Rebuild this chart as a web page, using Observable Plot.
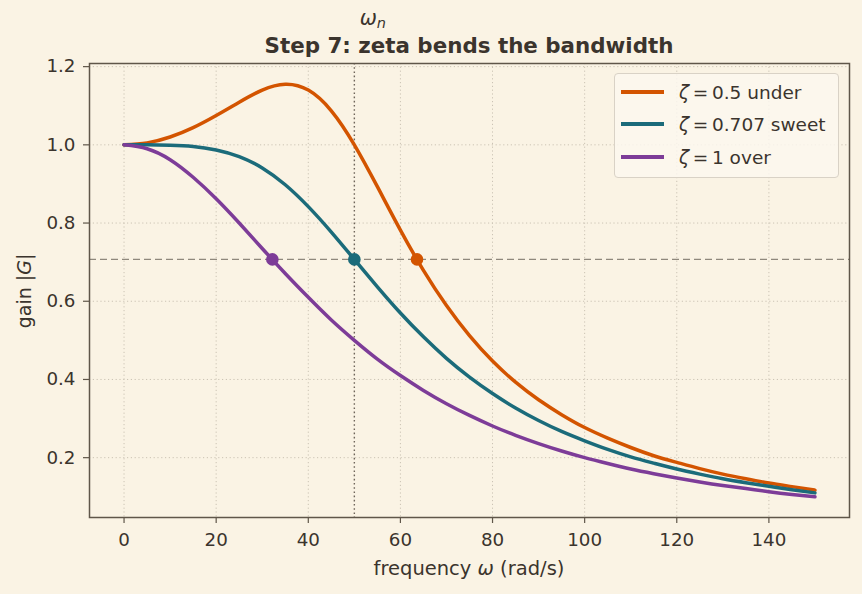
<!DOCTYPE html>
<html>
<head>
<meta charset="utf-8">
<script src="https://cdn.jsdelivr.net/npm/d3@7"></script>
<script src="https://cdn.jsdelivr.net/npm/@observablehq/plot@0.6"></script>
<style>
  html, body { margin: 0; padding: 0; background: #faf3e4; }
  #figure { position: relative; width: 862px; height: 594px; background: #faf3e4;
            font-family: "DejaVu Sans", sans-serif; color: #3b342d; }
  #title { position: absolute; left: 89px; width: 760px; top: 35px; text-align: center;
           font-weight: bold; font-size: 21.4px; line-height: 21px; }
  #legend { position: absolute; left: 614px; top: 73px; width: 225px; height: 105px;
            border: 1px solid #d9d2c6; border-radius: 4px; background: rgba(252,247,238,0.85);
            box-sizing: border-box; }
  .row { position: absolute; left: 0; height: 24px; display: flex; align-items: center;
         font-size: 18.5px; white-space: nowrap; }
  .swatch { width: 43px; height: 4px; margin-left: 6px; margin-right: 15px; }
  .row i { font-style: italic; }
</style>
</head>
<body>
<div id="figure">
  <div id="title">Step 7: zeta bends the bandwidth</div>
  <div id="legend"></div>
</div>
<script>
// Frequency grid (rad/s) and the gain of each damped response
const omega = [0, 5, 10, 15, 20, 25, 30, 35, 40, 45, 50, 55, 60, 65, 70, 75,
  80, 85, 90, 95, 100, 105, 110, 115, 120, 125, 130, 135, 140, 145, 150];
const gainUnder = [1.000, 1.005, 1.020, 1.044, 1.075, 1.109, 1.140, 1.155, 1.140, 1.087,
  1.000, 0.893, 0.782, 0.679, 0.589, 0.512, 0.447, 0.393, 0.348, 0.310, 0.277, 0.250,
  0.226, 0.205, 0.188, 0.172, 0.158, 0.146, 0.135, 0.126, 0.117];
const gainSweet = [1.000, 1.000, 0.999, 0.996, 0.987, 0.970, 0.941, 0.898, 0.842, 0.777,
  0.707, 0.637, 0.570, 0.509, 0.454, 0.406, 0.364, 0.327, 0.295, 0.267, 0.243, 0.221,
  0.202, 0.186, 0.171, 0.158, 0.146, 0.136, 0.127, 0.118, 0.110];
const gainOver = [1.000, 0.990, 0.962, 0.917, 0.862, 0.800, 0.735, 0.671, 0.610, 0.552,
  0.500, 0.452, 0.410, 0.372, 0.338, 0.308, 0.281, 0.257, 0.236, 0.217, 0.200, 0.185,
  0.171, 0.159, 0.148, 0.138, 0.129, 0.121, 0.113, 0.106, 0.100];

const seriesNames = ["ζ = 0.5 under", "ζ = 0.707 sweet", "ζ = 1 over"];
const zetaValues = ["0.5", "0.707", "1"];
const zetaWords = ["under", "sweet", "over"];
const seriesColors = ["#d35400", "#1b6b7a", "#7d3c98"];
const bandwidth = [63.6, 50.0, 32.2];   // -3 dB crossing of each curve
const cutoff = 0.707;
const naturalFreq = 50;
const xTicks = [0, 20, 40, 60, 80, 100, 120, 140];
const yTicks = [0.2, 0.4, 0.6, 0.8, 1.0, 1.2];

const gains = [gainUnder, gainSweet, gainOver];
const rows = gains.flatMap((g, i) => omega.map((w, j) => ({omega: w, gain: g[j], series: seriesNames[i]})));
const bwRows = bandwidth.map((b, i) => ({bw: b, gain: cutoff, series: seriesNames[i]}));

const frameColor = "#5f5649";
const gridColor = "#cbc3b4";

const chart = Plot.plot({
  width: 862,
  height: 594,
  marginLeft: 89,
  marginRight: 13,
  marginTop: 63,
  marginBottom: 77,
  style: {background: "transparent", fontFamily: "DejaVu Sans, sans-serif", color: "#3b342d", overflow: "visible"},
  x: {domain: [-7.5, 157.5]},
  y: {domain: [0.047, 1.208]},
  color: {domain: seriesNames, range: seriesColors},
  marks: [
    Plot.gridX(xTicks, {stroke: gridColor, strokeOpacity: 1, strokeWidth: 1, strokeDasharray: "1.2,2.6"}),
    Plot.gridY(yTicks, {stroke: gridColor, strokeOpacity: 1, strokeWidth: 1, strokeDasharray: "1.2,2.6"}),
    Plot.ruleY([cutoff], {stroke: "#8f887c", strokeWidth: 1.4, strokeDasharray: "7,4"}),
    Plot.ruleX([naturalFreq], {stroke: "#6e655a", strokeWidth: 1.4, strokeDasharray: "1.6,2.6"}),
    Plot.line(rows, {x: "omega", y: "gain", z: "series", stroke: "series", strokeWidth: 3.5, curve: "natural"}),
    Plot.dot(bwRows, {x: "bw", y: "gain", fill: "series", r: 6.3}),
    Plot.axisX({ticks: xTicks, tickSize: 6, tickPadding: 9, label: null, fontSize: 18.3, stroke: frameColor, strokeWidth: 1.2}),
    Plot.axisY({ticks: yTicks, tickSize: 6, tickPadding: 8, label: null, fontSize: 18.3, stroke: frameColor, strokeWidth: 1.2,
                tickFormat: d3.format(".1f")}),
    Plot.frame({stroke: frameColor, strokeWidth: 1.5})
  ]
});

const svg = d3.select(chart);
const xs = chart.scale("x");

// ω_n marker above the frame
const wnLabel = svg.append("text")
  .attr("x", xs.apply(naturalFreq) + 19)
  .attr("y", 25)
  .attr("font-size", 20.5)
  .attr("fill", "#3b342d");
wnLabel.append("tspan").attr("font-style", "italic").text("ω");
wnLabel.append("tspan").attr("font-style", "italic").attr("font-size", 14.5).attr("dy", 3).text("n");

// Axis titles
const xLabel = svg.append("text")
  .attr("x", 469).attr("y", 575)
  .attr("text-anchor", "middle").attr("font-size", 19.5).attr("fill", "#3b342d");
xLabel.append("tspan").text("frequency ");
xLabel.append("tspan").attr("font-style", "italic").text("ω");
xLabel.append("tspan").text(" (rad/s)");

const yLabel = svg.append("text")
  .attr("transform", "translate(31,291) rotate(-90)")
  .attr("text-anchor", "middle").attr("font-size", 19).attr("fill", "#3b342d");
yLabel.append("tspan").text("gain |");
yLabel.append("tspan").attr("font-style", "italic").text("G");
yLabel.append("tspan").text("|");

const fig = document.getElementById("figure");
fig.insertBefore(chart, fig.firstChild);
chart.style.position = "absolute";
chart.style.left = "0";
chart.style.top = "0";

// Legend
const legend = document.getElementById("legend");
const rowTops = [6, 38, 71];
seriesNames.forEach((name, i) => {
  const row = document.createElement("div");
  row.className = "row";
  row.style.top = rowTops[i] + "px";
  const sw = document.createElement("span");
  sw.className = "swatch";
  sw.style.background = seriesColors[i];
  row.appendChild(sw);
  const label = document.createElement("span");
  label.innerHTML = "<i>ζ</i>\u2009=\u2009" + zetaValues[i] + " " + zetaWords[i];
  row.appendChild(label);
  legend.appendChild(row);
});
</script>
</body>
</html>
